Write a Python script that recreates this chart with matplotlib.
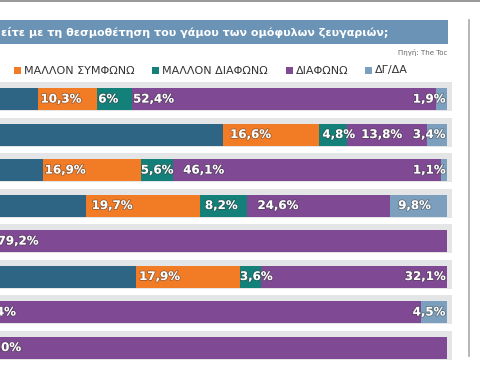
import matplotlib
matplotlib.use("Agg")
import matplotlib.pyplot as plt
import matplotlib.patheffects as pe
from matplotlib.patches import Rectangle

# ---- data (the chart is a cropped view; left part of the bars is cut off) ----
rows = [0, 1, 2, 3, 4, 5, 6, 7]
series_names = ["ΣΥΜΦΩΝΩ", "ΜΑΛΛΟΝ ΣΥΜΦΩΝΩ", "ΜΑΛΛΟΝ ΔΙΑΦΩΝΩ", "ΔΙΑΦΩΝΩ", "ΔΓ/ΔΑ"]
agree           = [29.4, 61.4, 30.3, 37.7, 20.8, 46.4, 18.1, 19.0]
rather_agree    = [10.3, 16.6, 16.9, 19.7, 0.0, 17.9, 0.0, 0.0]
rather_disagree = [6, 4.8, 5.6, 8.2, 0.0, 3.6, 0.0, 0.0]
disagree        = [52.4, 13.8, 46.1, 24.6, 79.2, 32.1, 77.4, 81.0]
dk_na           = [1.9, 3.4, 1.1, 9.8, 0.0, 0.0, 4.5, 0.0]
title_text = "είτε με τη θεσμοθέτηση του γάμου των ομόφυλων ζευγαριών;"
source_text = "Πηγή: The Toc"

colors = ["#2f6584", "#f27b25", "#14807a", "#7f4a93", "#7b9fbc"]
series = [agree, rather_agree, rather_disagree, disagree, dk_na]
right_aligned = {(0, 4), (1, 4), (2, 4), (5, 3), (6, 4)}
label_pad_px = {(0, 1): 3, (0, 2): 1, (0, 3): 1,
                (1, 1): 7, (1, 2): 3, (1, 3): 14,
                (2, 1): 2, (2, 2): 0, (2, 3): 10,
                (3, 1): 6, (3, 2): 5, (3, 3): 10, (3, 4): 8,
                (4, 3): 10, (5, 1): 3, (5, 2): 0}

W, H = 480, 384
fig = plt.figure(figsize=(4.8, 3.84), dpi=100)
fig.patch.set_facecolor("white")

# decoration axes in pixel coordinates
axd = fig.add_axes([0, 0, 1, 1])
axd.set_xlim(0, W)
axd.set_ylim(H, 0)
axd.axis("off")
axd.add_patch(Rectangle((0, 0), W, 2, color="#9a9a9a", lw=0))
axd.add_patch(Rectangle((0, 20), 448, 23.5, color="#6b93b6", lw=0))
axd.text(1, 32, title_text, color="white", fontsize=8.0, fontweight="bold",
         va="center", ha="left", family="DejaVu Sans")
axd.text(447, 53, source_text, color="#666666", fontsize=5, va="center", ha="right")
axd.plot([469, 469], [20, 356], color="#b0b0b0", lw=1.3)

legend_x = [14, 152, 286, 365]
for x, name, c in zip(legend_x, series_names[1:], colors[1:]):
    axd.add_patch(Rectangle((x, 66.5), 7, 7, color=c, lw=0))
    axd.text(x + 10, 70.5, name, color="#333333", fontsize=8.0, va="center", ha="left")

# bar axes: x in percent, y in pixels
px_per_pct = 5.80
x0 = 22.93
ax = fig.add_axes([0, 0, 1, 1])
ax.patch.set_alpha(0)
ax.set_xlim(x0, x0 + W / px_per_pct)
ax.set_ylim(H, 0)
ax.axis("off")

bar_h = 22
centers = [99 + i * 35.5 for i in rows]

# shadows
for yc in centers:
    ax.barh(yc - 2.5, 100.9 - x0, left=x0, height=bar_h + 7, color="#e4e5e7", lw=0)

stroke = [pe.withStroke(linewidth=1.2, foreground=(0.2, 0.2, 0.2, 0.45))]
for i, yc in zip(rows, centers):
    left = 0.0
    for s, (vals, c) in enumerate(zip(series, colors)):
        v = vals[i]
        if v > 0:
            ax.barh(yc, v, left=left, height=bar_h, color=c, lw=0)
            lab = (f"{v}%" if isinstance(v, int) else f"{v:.1f}%").replace(".", ",")
            if (i, s) in right_aligned:
                ax.text(99.75, yc, lab, color="white", fontsize=8.5, fontweight="bold",
                        ha="right", va="center", path_effects=stroke)
            elif left > x0 - 10:
                shift = label_pad_px.get((i, s), 3) / px_per_pct
                ax.text(left + shift, yc, lab, color="white", fontsize=8.5, fontweight="bold",
                        ha="left", va="center", path_effects=stroke)
        left += v

fig.savefig("out.png", dpi=100, facecolor="white")
